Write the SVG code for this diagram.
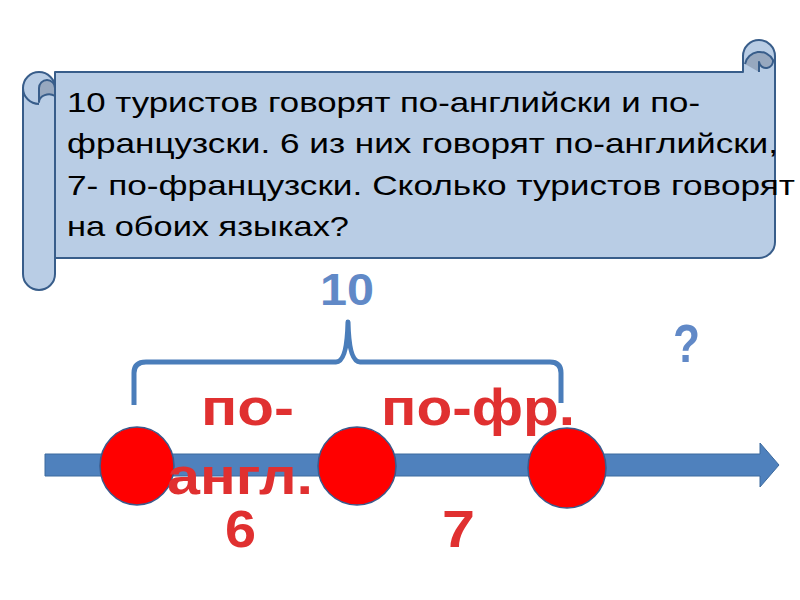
<svg xmlns="http://www.w3.org/2000/svg" width="800" height="600" viewBox="0 0 800 600">
<style>
.scroll{fill:#B9CDE5;stroke:#385D8A;stroke-width:2;stroke-linejoin:round}
.curl{fill:#97A8BF;stroke:#385D8A;stroke-width:2;stroke-linejoin:round}
.body{font-family:"Liberation Sans",Arial,sans-serif;font-size:28px;fill:#000;white-space:pre}
.red{font-family:"Liberation Sans",Arial,sans-serif;font-weight:bold;font-size:52px;fill:#E03030}
.blue{font-family:"Liberation Sans",Arial,sans-serif;font-weight:bold;fill:#6189C7}
.dot{fill:#FF0000;stroke:#3B5A8C;stroke-width:1.5}
</style>
<rect width="800" height="600" fill="#FFFFFF"/>
<g id="scroll">
  <path class="scroll" d="M 55 72 L 743 72 L 743 56 A 16 16 0 0 1 775 56 L 775 242 A 16 16 0 0 1 759 258 L 55 258 Z"/>
  <path class="curl" d="M 745 64 A 15 15 0 0 1 773 60 A 7 7 0 0 1 759 62 L 759 72"/>
  <path class="scroll" d="M 23 88 A 16 16 0 0 1 55 88 L 55 274 A 16 16 0 0 1 23 274 Z"/>
  <path class="curl" d="M 39 102 L 39 88 A 8 8 0 0 1 55 88 L 55 96 A 10 8 0 0 0 39 102 Z"/>
  <path fill="none" stroke="#385D8A" stroke-width="2" d="M 23 88 A 16 16 0 0 0 39 104"/>
</g>
<g id="problem-text" class="body" xml:space="preserve">
  <text x="67" y="112" textLength="633" lengthAdjust="spacingAndGlyphs">10 туристов говорят по-английски  и по-</text>
  <text x="67" y="153" textLength="711" lengthAdjust="spacingAndGlyphs">французски. 6 из  них говорят по-английски,</text>
  <text x="67" y="195" textLength="728" lengthAdjust="spacingAndGlyphs">7- по-французски. Сколько туристов  говорят</text>
  <text x="67" y="236" textLength="282" lengthAdjust="spacingAndGlyphs">на обоих языках?</text>
</g>
<g id="connectors">
  <path id="number-line" d="M 45 454 L 760 454 L 760 443 L 779 465 L 760 487 L 760 476 L 45 476 Z" fill="#4F81BD" stroke="#3C6A9E" stroke-width="1"/>
  <path id="brace" d="M 134 405 L 134 373 Q 134 362 146 362 L 336 362 Q 347 362 348 322 Q 349 362 360 362 L 550 362 Q 561 362 561 373 L 561 403" fill="none" stroke="#4A7DBA" stroke-width="5" stroke-linecap="butt" stroke-linejoin="round"/>
</g>
<g id="point-1"><ellipse class="dot" cx="137" cy="466" rx="37" ry="39"/></g>
<g id="point-2"><ellipse class="dot" cx="357" cy="466" rx="39" ry="39"/></g>
<g id="point-3"><ellipse class="dot" cx="567" cy="468" rx="39" ry="40"/></g>
<g id="labels">
  <text class="blue" x="320" y="305" font-size="45" textLength="54" lengthAdjust="spacingAndGlyphs">10</text>
  <text class="blue" x="673" y="362" font-size="54" textLength="27" lengthAdjust="spacingAndGlyphs">?</text>
  <text class="red" x="201" y="425" textLength="93" lengthAdjust="spacingAndGlyphs">по-</text>
  <text class="red" x="381" y="425" textLength="194" lengthAdjust="spacingAndGlyphs">по-фр.</text>
  <text class="red" x="167" y="494" textLength="146" lengthAdjust="spacingAndGlyphs">англ.</text>
  <text class="red" x="225" y="547" textLength="31" lengthAdjust="spacingAndGlyphs">6</text>
  <text class="red" x="442" y="547" textLength="33" lengthAdjust="spacingAndGlyphs">7</text>
</g>
</svg>
